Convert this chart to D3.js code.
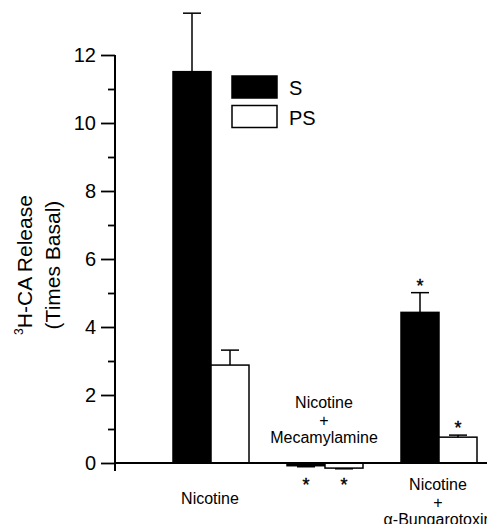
<!DOCTYPE html>
<html>
<head>
<meta charset="utf-8">
<script src="https://cdn.jsdelivr.net/npm/d3@7"></script>
<style>
  body { margin: 0; background: #fff; }
  svg { font-family: "Liberation Sans", Arial, sans-serif; }
</style>
</head>
<body>
<svg id="chart" width="487" height="524"></svg>
<script>
// ---- data ----
var groups = ["Nicotine", "Nicotine + Mecamylamine", "Nicotine + α-Bungarotoxin"];
var groupLabels = [["Nicotine"], ["Nicotine", "+", "Mecamylamine"], ["Nicotine", "+", "α-Bungarotoxin"]];
var seriesNames = ["S", "PS"];
var valuesS = [11.51, -0.08, 4.43];
var valuesPS = [2.88, -0.15, 0.76];
var errorsS = [1.72, 0.03, 0.58];
var errorsPS = [0.44, 0.02, 0.06];
var starsS = [false, true, true];
var starsPS = [false, true, true];
var majorTicks = [0, 2, 4, 6, 8, 10, 12];
var minorTicks = [1, 3, 5, 7, 9, 11];

var svg = d3.select("#chart");
var fills = { S: "#000", PS: "#fff" };

var y = d3.scaleLinear().domain([0, 12]).range([463, 55]);
var x = d3.scaleBand().domain(groups).range([154, 496]).padding(0);
var xSub = d3.scaleBand().domain(seriesNames).range([0, 76]).padding(0);
var groupOffset = (x.bandwidth() - 76) / 2;

var data = [];
groups.forEach(function(g, i) {
	data.push({ group: g, series: "S", value: valuesS[i], err: errorsS[i], star: starsS[i] });
	data.push({ group: g, series: "PS", value: valuesPS[i], err: errorsPS[i], star: starsPS[i] });
});

// bars
svg.append("g").selectAll("rect")
	.data(data)
	.enter().append("rect")
	.attr("x", function(d) { return x(d.group) + groupOffset + xSub(d.series); })
	.attr("width", xSub.bandwidth())
	.attr("y", function(d) { return Math.min(y(d.value), y(0)); })
	.attr("height", function(d) { return Math.max(Math.abs(y(d.value) - y(0)), 1); })
	.attr("fill", function(d) { return fills[d.series]; })
	.attr("stroke", "#000")
	.attr("stroke-width", 1.5);

// error bars (one sided, away from zero)
var eb = svg.append("g").attr("stroke", "#000").attr("stroke-width", 1.5);
data.forEach(function(d) {
	var cx = x(d.group) + groupOffset + xSub(d.series) + xSub.bandwidth() / 2;
	var sign = d.value < 0 ? -1 : 1;
	var y1 = y(d.value), y2 = y(d.value + sign * d.err);
	eb.append("line").attr("x1", cx).attr("x2", cx).attr("y1", y1).attr("y2", y2);
	eb.append("line").attr("x1", cx - 9).attr("x2", cx + 9).attr("y1", y2).attr("y2", y2);
});

// significance stars
svg.append("g").selectAll("text")
	.data(data.filter(function(d) { return d.star; }))
	.enter().append("text")
	.attr("x", function(d) { return x(d.group) + groupOffset + xSub(d.series) + xSub.bandwidth() / 2; })
	.attr("y", function(d) {
		if (d.value < 0) return y(0) + 28;
		return y(d.value + d.err) - 1;
	})
	.attr("text-anchor", "middle")
	.attr("font-size", 18)
	.attr("stroke", "#000")
	.attr("stroke-width", 0.4)
	.text("*");

// y axis
var axMajor = svg.append("g")
	.attr("transform", "translate(115,0)")
	.call(d3.axisLeft(y).tickValues(majorTicks).tickSize(14).tickPadding(5).tickFormat(d3.format("d")));
var axMinor = svg.append("g")
	.attr("transform", "translate(115,0)")
	.call(d3.axisLeft(y).tickValues(minorTicks).tickSize(7).tickFormat(""));
[axMajor, axMinor].forEach(function(a) {
	a.select(".domain").remove();
	a.selectAll("line").attr("stroke", "#000").attr("stroke-width", 1.8);
});
axMajor.selectAll("text").attr("font-size", 20).attr("fill", "#000").attr("font-family", "Liberation Sans, Arial, sans-serif");

svg.append("line")
	.attr("x1", 115).attr("x2", 115).attr("y1", y(12)).attr("y2", y(0) + 8)
	.attr("stroke", "#000").attr("stroke-width", 2);
svg.append("line")
	.attr("x1", 115).attr("x2", 487).attr("y1", y(0)).attr("y2", y(0))
	.attr("stroke", "#000").attr("stroke-width", 1.8);

// y axis title
var yt = svg.append("text")
	.attr("transform", "translate(32,265) rotate(-90)")
	.attr("text-anchor", "middle")
	.attr("font-size", 21);
yt.append("tspan").attr("font-size", 12).attr("dy", -9).text("3");
yt.append("tspan").attr("dy", 9).text("H-CA Release");
svg.append("text")
	.attr("transform", "translate(60,265) rotate(-90)")
	.attr("text-anchor", "middle")
	.attr("font-size", 21)
	.text("(Times Basal)");

// category labels
var labelTop = [504, 408, 490];
groupLabels.forEach(function(lines, i) {
	var t = svg.append("text")
		.attr("text-anchor", "middle")
		.attr("font-size", 16);
	lines.forEach(function(line, j) {
		t.append("tspan")
			.attr("x", x(groups[i]) + x.bandwidth() / 2 - 1)
			.attr("y", labelTop[i] + j * 17.5)
			.text(line);
	});
});

// legend
var legend = svg.append("g");
seriesNames.forEach(function(s, i) {
	legend.append("rect")
		.attr("x", 232).attr("y", 76 + i * 29.5)
		.attr("width", 45).attr("height", 22)
		.attr("fill", fills[s]).attr("stroke", "#000").attr("stroke-width", 1.5);
	legend.append("text")
		.attr("x", 289).attr("y", 95 + i * 29.5)
		.attr("font-size", 20)
		.text(s);
});
</script>
</body>
</html>
